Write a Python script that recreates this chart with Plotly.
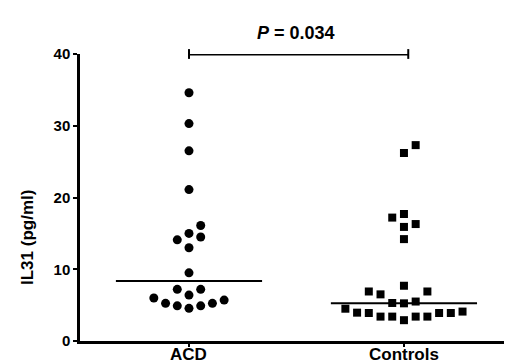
import plotly.graph_objects as go

categories = ["ACD", "Controls"]
acd_values = [34.6, 30.3, 26.5, 21.1, 16.1, 15.0, 14.1, 14.5, 13.0, 9.5,
              7.2, 7.2, 6.4, 6.0, 5.25, 4.9, 4.55, 4.9, 5.25, 5.7]
acd_slots = [0, 0, 0, 0, 1, 0, -1, 1, 0, 0,
             -1, 1, 0, -3, -2, -1, 0, 1, 2, 3]
ctrl_values = [27.3, 26.2, 17.2, 17.7, 15.9, 16.3, 14.2, 7.7, 6.9, 6.5,
               6.9, 5.3, 5.25, 5.5, 4.5, 3.95, 3.9, 3.4, 3.4, 2.9,
               3.4, 3.4, 3.9, 3.9, 4.1]
ctrl_slots = [1, 0, -1, 0, 0, 1, 0, 0, -3, -2,
              2, -1, 0, 1, -5, -4, -3, -2, -1, 0,
              1, 2, 3, 4, 5]
medians = [8.35, 5.25]
p_text = "<i>P</i> = 0.034"
y_ticks = [0, 10, 20, 30, 40]

slot_w = 0.0545
half_w = 0.34
font = "Arial, Liberation Sans, sans-serif"

# page body has an 8px default margin; compensate so the plot lands where intended
off = 8
W, H = 512 - off, 363 - off
L, T = 80 - off, 54 - off
PW, PH = 428, 287
R, B = W - L - PW, H - T - PH

fig = go.Figure()
fig.add_trace(go.Scatter(
    x=[0 + s * slot_w for s in acd_slots], y=acd_values, mode="markers",
    marker=dict(symbol="circle", size=9, color="black"), cliponaxis=False))
fig.add_trace(go.Scatter(
    x=[1 + s * slot_w for s in ctrl_slots], y=ctrl_values, mode="markers",
    marker=dict(symbol="square", size=8, color="black"), cliponaxis=False))
for i, m in enumerate(medians):
    fig.add_trace(go.Scatter(x=[i - half_w, i + half_w], y=[m, m], mode="lines",
                             line=dict(color="black", width=2), cliponaxis=False))
# significance bar
fig.add_trace(go.Scatter(x=[0, 1.02], y=[40, 40], mode="lines+markers",
                         line=dict(color="black", width=3),
                         marker=dict(symbol="line-ns", size=7, line=dict(width=2, color="black")),
                         cliponaxis=False))

fig.add_annotation(x=0.5, y=1.0, xref="x", yref="paper", yshift=33,
                   text=p_text, showarrow=False,
                   font=dict(family=font, size=18, color="black", weight="bold"))
fig.add_annotation(x=(27 - 80) / PW, xref="paper", y=(341 - 238) / PH, yref="paper",
                   xanchor="center", yanchor="middle",
                   text="IL31 (pg/ml)", showarrow=False, textangle=-90,
                   font=dict(family=font, size=17, color="black", weight="bold"))
for i, c in enumerate(categories):
    fig.add_annotation(x=i, xref="x", y=0, yref="paper", xanchor="center",
                       yanchor="top", yshift=-2,
                       text=c, showarrow=False,
                       font=dict(family=font, size=17, color="black", weight="bold"))

fig.update_layout(
    width=W, height=H,
    margin=dict(l=L, r=R, t=T, b=B, autoexpand=False),
    paper_bgcolor="white", plot_bgcolor="white",
    showlegend=False,
    xaxis=dict(range=[-0.507, 1.484], tickvals=[0, 1], showticklabels=False,
               showline=True, linecolor="black", linewidth=2.5,
               ticks="outside", ticklen=3, tickwidth=2, tickcolor="black",
               showgrid=False, zeroline=False),
    yaxis=dict(range=[0, 40], tickvals=y_ticks,
               showline=True, linecolor="black", linewidth=2.5,
               ticks="outside", ticklen=4, tickwidth=2, tickcolor="black",
               showgrid=False, zeroline=False,
               tickfont=dict(family=font, size=15, color="black", weight="bold")),
)
fig.write_html("out.html")
